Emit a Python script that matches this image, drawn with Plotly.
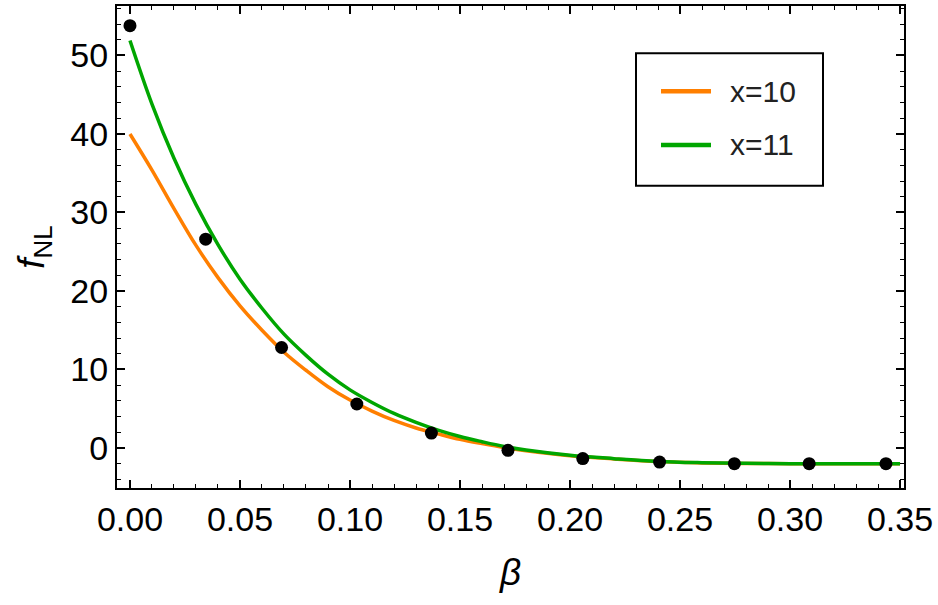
import plotly.graph_objects as go

# ---- data ----
beta_pts = [0.0, 0.0344, 0.0689, 0.1031, 0.1370, 0.1718, 0.2058, 0.2407, 0.2747, 0.3087, 0.3436]
fnl_pts = [53.8, 26.6, 12.8, 5.6, 1.9, -0.3, -1.35, -1.8, -2.0, -2.0, -2.0]

beta_curve = [0.0, 0.01, 0.02, 0.03, 0.04, 0.05, 0.06, 0.07, 0.08, 0.09, 0.10,
              0.11, 0.12, 0.13, 0.14, 0.15, 0.16, 0.17, 0.18, 0.20, 0.22, 0.24,
              0.26, 0.28, 0.30, 0.32, 0.35]
fnl_x10 = [40.0, 35.4, 30.5, 25.8, 21.7, 18.1, 15.0, 12.2, 9.9, 7.8, 6.1,
           4.7, 3.5, 2.55, 1.8, 1.1, 0.55, 0.05, -0.35, -0.98, -1.4, -1.74,
           -1.9, -1.97, -2.0, -2.0, -2.0]
fnl_x11 = [51.9, 43.8, 36.9, 31.0, 25.9, 21.5, 17.8, 14.5, 11.8, 9.4, 7.4,
           5.8, 4.4, 3.26, 2.27, 1.46, 0.8, 0.2, -0.25, -0.92, -1.36, -1.72,
           -1.88, -1.96, -2.0, -2.0, -2.0]

names = ["x=10", "x=11"]
colors = ["rgb(255,127,0)", "rgb(0,166,0)"]

x_ticks = [0.0, 0.05, 0.10, 0.15, 0.20, 0.25, 0.30, 0.35]
x_ticklabels = ["0.00", "0.05", "0.10", "0.15", "0.20", "0.25", "0.30", "0.35"]
y_ticks = [0, 10, 20, 30, 40, 50]

FONT = "Liberation Sans, Arial, sans-serif"

fig = go.Figure()
for name, ys, col in zip(names, [fnl_x10, fnl_x11], colors):
    fig.add_trace(go.Scatter(x=beta_curve, y=ys, mode="lines", name=name,
                             line=dict(color=col, width=3.5, shape="spline", smoothing=1.0),
                             showlegend=False))
fig.add_trace(go.Scatter(x=beta_pts, y=fnl_pts, mode="markers", name="data",
                         marker=dict(color="black", size=13), showlegend=False))

axis_common = dict(showline=True, linecolor="black", linewidth=2, mirror="allticks",
                   ticks="inside", tickcolor="black", tickwidth=1.5, ticklen=8,
                   showgrid=False, zeroline=False,
                   tickfont=dict(family=FONT, size=34, color="black"))

fig.update_xaxes(range=[-0.0059, 0.3518], tickvals=x_ticks, ticktext=x_ticklabels,
                 minor=dict(dtick=0.01, ticks="inside", ticklen=4, tickwidth=1.2, tickcolor="black", showgrid=False),
                 title=dict(text="<i>β</i>", font=dict(family=FONT, size=37, color="black"), standoff=22),
                 **axis_common)
fig.update_yaxes(range=[-5.1, 56.3], tickvals=y_ticks,
                 minor=dict(dtick=2, ticks="inside", ticklen=4, tickwidth=1.2, tickcolor="black", showgrid=False),
                 title=dict(text="<i>f</i><sub>NL</sub>", font=dict(family=FONT, size=37, color="black"), standoff=14),
                 **axis_common)

# legend drawn as box + sample lines + text
def px_x(p):
    return (p - 117) / 787.0

def px_y(p):
    return (488.5 - p) / 484.0

shapes = [dict(type="rect", xref="paper", yref="paper",
               x0=px_x(636), x1=px_x(823), y0=px_y(185), y1=px_y(52),
               line=dict(color="black", width=2), fillcolor="white", layer="above")]
annotations = []
for name, col, yc in zip(names, colors, [90, 144]):
    shapes.append(dict(type="line", xref="paper", yref="paper",
                       x0=px_x(661), x1=px_x(711), y0=px_y(yc), y1=px_y(yc),
                       line=dict(color=col, width=4.5), layer="above"))
    annotations.append(dict(text=name, xref="paper", yref="paper", x=px_x(728), y=px_y(yc),
                            xanchor="left", yanchor="middle", showarrow=False,
                            font=dict(family=FONT, size=30, color="#222222")))

fig.update_layout(width=938, height=605, margin=dict(l=117, r=34, t=4, b=117),
                  plot_bgcolor="white", paper_bgcolor="white",
                  shapes=shapes, annotations=annotations, showlegend=False)

fig.write_html("out.html")
